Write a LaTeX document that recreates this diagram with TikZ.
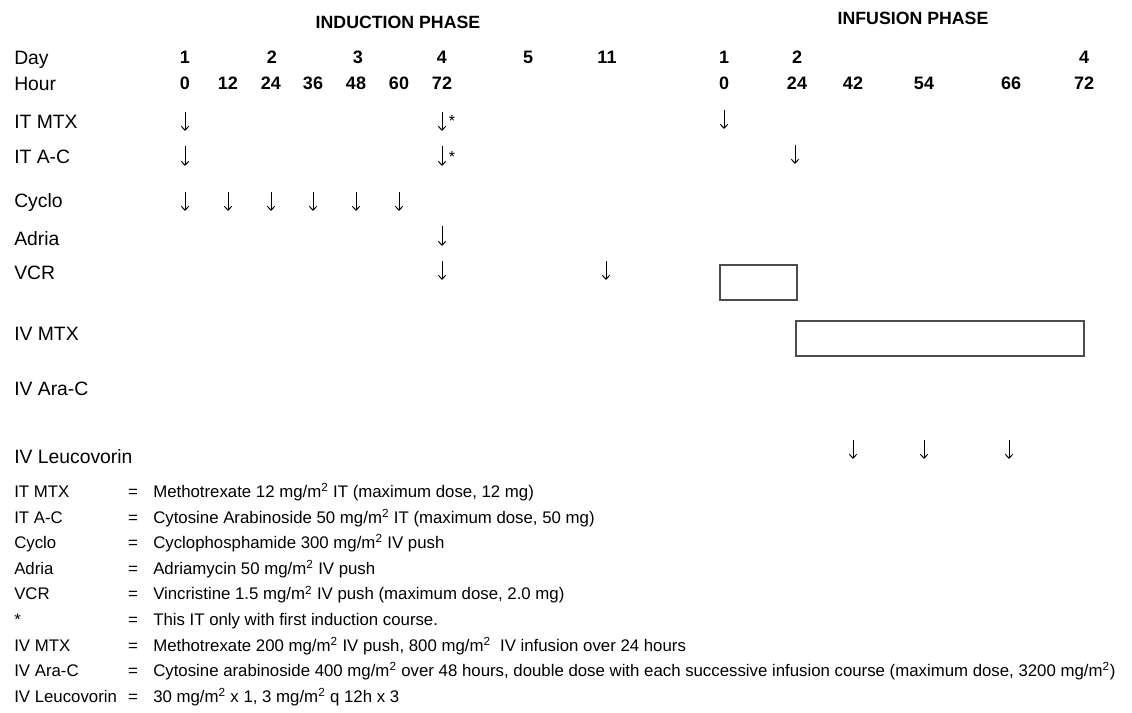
\documentclass[tikz,border=0pt]{standalone}
\usepackage{fontspec}
\setmainfont{Liberation Sans}
\usetikzlibrary{arrows.meta}
\newcommand\dnarrow[3]{\draw[dose] (#1,#2) -- (#1,#3);}
\newcommand\msq{mg/m\textsuperscript{2}}
\begin{document}
\begin{tikzpicture}[x=0.75pt,y=-0.75pt,
  hdr/.style={font=\bfseries\fontsize{13.3}{15}\selectfont, inner sep=0, anchor=base},
  num/.style={font=\bfseries\fontsize{13.5}{15}\selectfont, inner sep=0, anchor=base},
  lbl/.style={font=\fontsize{14.5}{16}\selectfont, inner sep=0, anchor=base west},
  leg/.style={font=\fontsize{12.6}{14}\selectfont, inner sep=0, anchor=base west},
  eqs/.style={font=\fontsize{12.6}{14}\selectfont, inner sep=0, anchor=base},
  star/.style={font=\fontsize{12}{14}\selectfont, inner sep=0},
  dose/.style={line width=0.75pt, -{Straight Barb[length=3pt,width=5.5pt]}},
  bar/.style={draw=black!70, line width=0.8pt}
]
\useasboundingbox (0,0) rectangle (1132,713);
% headers
\node[hdr] (hind) at (398,28.5) {INDUCTION PHASE};
\node[hdr] (hinf) at (913,24.5) {INFUSION PHASE};
% row labels
\node[lbl] (lday) at (14,65) {Day};
\node[lbl] (lhour) at (14,91) {Hour};
\node[lbl] (litmtx) at (14,129) {IT MTX};
\node[lbl] (litac) at (14,164) {IT A-C};
\node[lbl] (lcyc) at (14,208) {Cyclo};
\node[lbl] (ladr) at (14,245) {Adria};
\node[lbl] (lvcr) at (14,279) {VCR};
\node[lbl] (livmtx) at (14,340) {IV MTX};
\node[lbl] (livara) at (14,395) {IV Ara-C};
\node[lbl] (lleu) at (14,463) {IV Leucovorin};
% day numbers
\foreach \x/\t/\n in {185/1/a,272/2/b,358/3/c,442/4/d,528/5/e,607/11/f,724/1/g,797/2/h,1084/4/i}
  \node[num] (d\n) at (\x,64) {\t};
% hours
\foreach \x/\t/\n in {185/0/a,228/12/b,271/24/c,313/36/d,356/48/e,399/60/f,442/72/g,724/0/h,797/24/i,853/42/j,924/54/k,1011/66/l,1084/72/m}
  \node[num] (h\n) at (\x,90) {\t};
% IT MTX
\dnarrow{185}{112}{131}
\dnarrow{442}{112}{131}
\node[star] (s1) at (452,121) {*};
\dnarrow{724}{110}{129}
% IT A-C
\dnarrow{185}{146}{166}
\dnarrow{442}{146}{166}
\node[star] (s2) at (452,157) {*};
\dnarrow{795}{145}{164}
% Cyclo
\foreach \x in {185,228,271,313,356,399} {\dnarrow{\x}{192}{211}}
% Adria
\dnarrow{442}{226}{246}
% VCR
\dnarrow{442}{261}{280}
\dnarrow{606}{261}{280}
\draw[bar] (720,265) rectangle (797,300);
% IV MTX
\draw[bar] (796,321) rectangle (1084,356);
% Leucovorin
\foreach \x in {853,924,1009} {\dnarrow{\x}{440}{459}}
% legend
\foreach \i/\a/\b in {
  0/{IT MTX}/{Methotrexate 12 \msq\ IT (maximum dose, 12 mg)},
  1/{IT A-C}/{Cytosine Arabinoside 50 \msq\ IT (maximum dose, 50 mg)},
  2/{Cyclo}/{Cyclophosphamide 300 \msq\ IV push},
  3/{Adria}/{Adriamycin 50 \msq\ IV push},
  4/{VCR}/{Vincristine 1.5 \msq\ IV push (maximum dose, 2.0 mg)},
  5/{*}/{This IT only with first induction course.},
  6/{IV MTX}/{Methotrexate 200 \msq\ IV push, 800 \msq\ \ IV infusion over 24 hours},
  7/{IV Ara-C}/{Cytosine arabinoside 400 \msq\ over 48 hours, double dose with each successive infusion course (maximum dose, 3200 \msq)},
  8/{IV Leucovorin}/{30 \msq\ x 1, 3 \msq\ q 12h x 3}} {
  \node[leg] (ka\i) at (14,497.5+25.6*\i) {\a};
  \node[eqs] (ke\i) at (133,497.5+25.6*\i) {=};
  \node[leg] (kb\i) at (153,497.5+25.6*\i) {\b};
}
\end{tikzpicture}
\end{document}
